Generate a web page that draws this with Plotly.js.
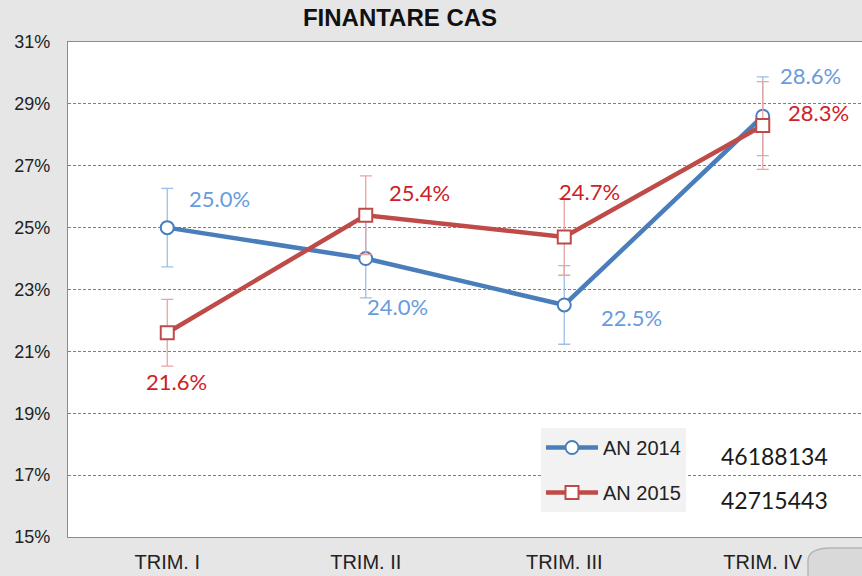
<!DOCTYPE html>
<html>
<head>
<meta charset="utf-8">
<script src="https://cdn.plot.ly/plotly-3.0.1.min.js"></script>
<style>html,body{margin:0;padding:0;background:#e6e6e6;}#chart{width:862px;height:576px;}</style>
</head>
<body>
<div id="chart"></div>
<script>
// ---- data ----
const categories = ["TRIM. I", "TRIM. II", "TRIM. III", "TRIM. IV"];
const seriesNames = ["AN 2014", "AN 2015"];
const values2014 = [25.0, 24.0, 22.5, 28.6];
const values2015 = [21.6, 25.4, 24.7, 28.3];
const errors2014 = [1.27, 1.27, 1.27, 1.27];
const errors2015 = [1.08, 1.27, 1.24, 1.42];
const totals = ["46188134", "42715443"];
const yTicks = [15, 17, 19, 21, 23, 25, 27, 29, 31];

// ---- label offsets (pixels) ----
const off2014 = [[52, 29], [32, -48], [67, -13], [48, 41]];
const off2015 = [[9, -49], [54, 23], [25, 45], [56, 13]];

const blue = "#4a7ebb", red = "#be4b48";
const blueLbl = "#6a9bdc", redLbl = "#cf2027";

const traces = [
  {
    x: categories, y: values2014, name: seriesNames[0], type: "scatter", mode: "lines+markers",
    legendgroup: "a",
    line: {color: blue, width: 4.5},
    marker: {symbol: "circle", size: 13, color: "#ffffff", line: {color: blue, width: 2}},
    error_y: {type: "data", array: errors2014, visible: true, color: "#9dbfe6", thickness: 1.3, width: 6},
    hoverinfo: "skip"
  },
  {
    x: categories, y: values2015, name: seriesNames[1], type: "scatter", mode: "lines+markers",
    legendgroup: "b",
    line: {color: red, width: 4.5},
    marker: {symbol: "square", size: 13, color: "#ffffff", line: {color: red, width: 2}},
    error_y: {type: "data", array: errors2015, visible: true, color: "#e8a3a3", thickness: 1.3, width: 6},
    hoverinfo: "skip"
  }
];

const annotations = [];
values2014.forEach((v, i) => annotations.push({
  x: categories[i], y: v, xref: "x", yref: "y", text: v.toFixed(1) + "%", showarrow: false,
  xshift: off2014[i][0], yshift: off2014[i][1],
  font: {family: "Lato, 'Open Sans', sans-serif", size: 22, color: blueLbl}
}));
values2015.forEach((v, i) => annotations.push({
  x: categories[i], y: v, xref: "x", yref: "y", text: v.toFixed(1) + "%", showarrow: false,
  xshift: off2015[i][0], yshift: off2015[i][1],
  font: {family: "Lato, 'Open Sans', sans-serif", size: 22, color: redLbl}
}));
totals.forEach((t, i) => annotations.push({
  x: 0.890, y: i === 0 ? 0.1636 : 0.0747, xref: "paper", yref: "paper", text: t, showarrow: false,
  xanchor: "center", yanchor: "middle",
  font: {family: "Lato, 'Open Sans', sans-serif", size: 23, color: "#1a1a1a"}
}));

const layout = {
  width: 862, height: 576,
  margin: {l: 68, r: 0, t: 42, b: 39, pad: 0},
  paper_bgcolor: "#e6e6e6",
  plot_bgcolor: "#ffffff",
  showlegend: true,
  title: {
    text: "<b>FINANTARE CAS</b>", x: 400 / 862, xref: "container", xanchor: "center",
    y: 1 - 18 / 576, yref: "container", yanchor: "middle",
    font: {family: "Liberation Sans, Arial, sans-serif", size: 24, color: "#111111"}
  },
  xaxis: {
    type: "category", range: [-0.5, 3.5], showgrid: false, zeroline: false,
    showline: true, linecolor: "#8c8c8c", linewidth: 1.2, mirror: true,
    ticks: "", ticklabelstandoff: 7,
    tickfont: {family: "Liberation Sans, Arial, sans-serif", size: 20, color: "#222222"},
    fixedrange: true
  },
  yaxis: {
    range: [15, 31], tickvals: yTicks, ticktext: yTicks.map(v => v + "%"),
    showgrid: true, gridcolor: "#7f7f7f", gridwidth: 1, griddash: "3px,2px",
    zeroline: false, showline: true, linecolor: "#8c8c8c", linewidth: 1.2,
    ticks: "", ticklabelstandoff: 13,
    tickfont: {family: "Liberation Sans, Arial, sans-serif", size: 18, color: "#222222"},
    fixedrange: true
  },
  legend: {
    x: (541 - 68) / 794, y: (537 - 428) / 495, xanchor: "left", yanchor: "top",
    bgcolor: "#f2f2f2", borderwidth: 0,
    font: {family: "Liberation Sans, Arial, sans-serif", size: 20, color: "#222222"},
    itemwidth: 52, traceorder: "grouped", tracegroupgap: 16,
    itemclick: false, itemdoubleclick: false
  },
  annotations: annotations,
  shapes: [{
    type: "path", xref: "paper", yref: "paper", layer: "above",
    path: "M 0.932,-0.12 L 0.932,-0.048 Q 0.932,-0.022 0.962,-0.022 L 1.05,-0.022 L 1.05,-0.12 Z",
    fillcolor: "#d9d9d9", line: {color: "#b5b5b5", width: 1.5}
  }]
};

Plotly.newPlot("chart", traces, layout, {displayModeBar: false, staticPlot: true});
</script>
</body>
</html>
